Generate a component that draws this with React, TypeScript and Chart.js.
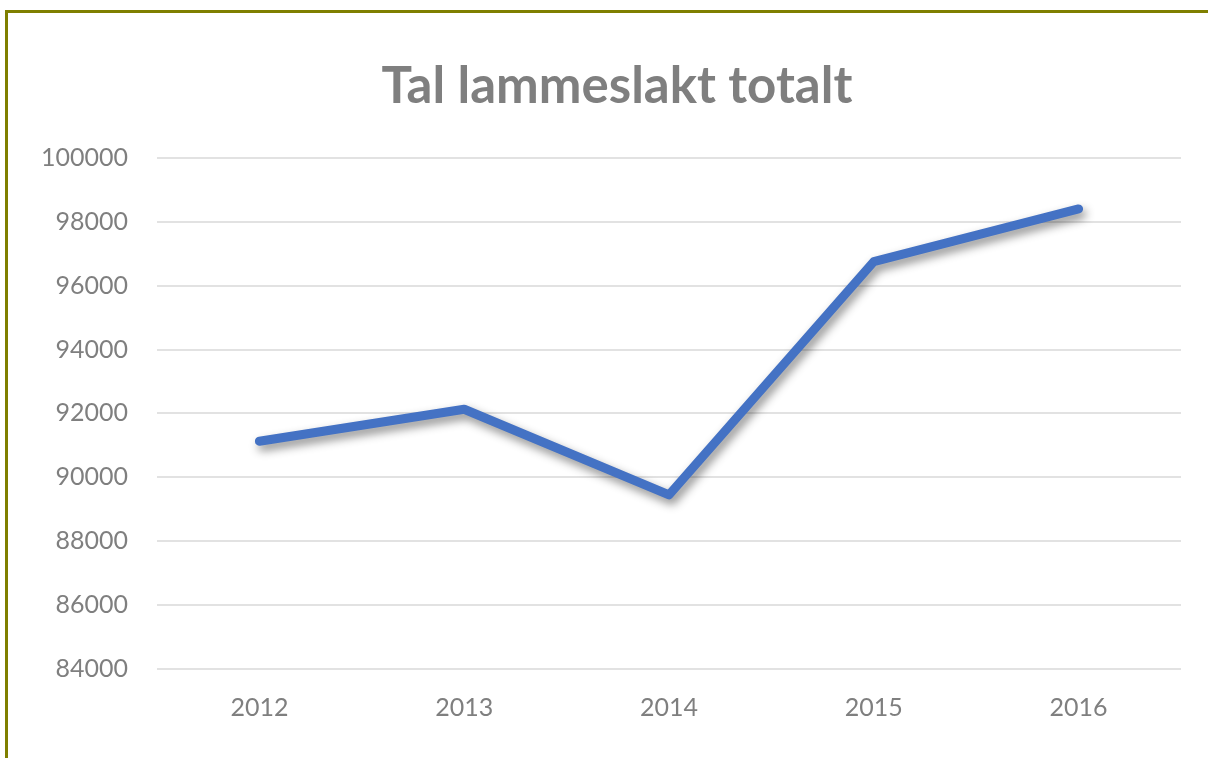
import React, { useEffect, useRef } from "react";
import { Chart, registerables } from "chart.js";

Chart.register(...registerables);

const categories: string[] = ["2012", "2013", "2014", "2015", "2016"];
const values: number[] = [91130, 92130, 89450, 96750, 98400];
const yMin = 84000;
const yMax = 100000;
const yStep = 2000;
const titleText = "Tal lammeslakt totalt";

const shadowPlugin = {
  id: "lineShadow",
  beforeDatasetDraw(chart: any) {
    const ctx = chart.ctx;
    ctx.save();
    ctx.shadowColor = "rgba(0,0,0,0.45)";
    ctx.shadowBlur = 10;
    ctx.shadowOffsetX = 3;
    ctx.shadowOffsetY = 5;
  },
  afterDatasetDraw(chart: any) {
    chart.ctx.restore();
  },
};

const titlePlugin = {
  id: "customTitle",
  afterDraw(chart: any) {
    const ctx = chart.ctx;
    ctx.save();
    ctx.font = "bold 51px Lato";
    ctx.fillStyle = "#7f7f7f";
    ctx.textAlign = "center";
    ctx.textBaseline = "alphabetic";
    ctx.fillText(titleText, 617, 103);
    ctx.restore();
  },
};

export default function App() {
  const ref = useRef<HTMLCanvasElement | null>(null);

  useEffect(() => {
    document.body.style.overflow = "hidden";
    const canvas = ref.current;
    if (!canvas) return;
    const chart = new Chart(canvas, {
      type: "line",
      data: {
        labels: categories,
        datasets: [
          {
            data: values,
            borderColor: "#4472C4",
            borderWidth: 9,
            borderCapStyle: "round",
            borderJoinStyle: "round",
            pointRadius: 0,
            tension: 0,
            fill: false,
          },
        ],
      },
      options: {
        animation: false,
        responsive: false,
        devicePixelRatio: 1,
        layout: { padding: { top: 0, left: 0, right: 27, bottom: 0 } },
        plugins: {
          legend: { display: false },
          tooltip: { enabled: false },
          title: {
            display: true,
            text: titleText,
            color: "rgba(0,0,0,0)",
            font: { family: "Lato", size: 44, weight: "bold" },
            padding: { top: 59, bottom: 46 },
          },
        },
        scales: {
          x: {
            offset: true,
            grid: { display: false, drawTicks: false },
            border: { display: false },
            ticks: {
              color: "#7f7f7f",
              font: { family: "Lato", size: 25 },
              padding: 24,
              maxRotation: 0,
            },
            afterFit(scale: any) {
              scale.height = 89;
            },
          },
          y: {
            min: yMin,
            max: yMax,
            grid: { color: "#e2e2e2", lineWidth: 2, drawTicks: false },
            border: { display: false },
            ticks: {
              stepSize: yStep,
              color: "#7f7f7f",
              font: { family: "Lato", size: 25 },
              padding: 29,
              callback: (v: any) => String(v),
            },
            afterFit(scale: any) {
              scale.width = 157;
            },
          },
        },
      },
      plugins: [shadowPlugin, titlePlugin],
    } as any);
    return () => chart.destroy();
  }, []);

  return (
    <>
      <canvas
        ref={ref}
        width={1208}
        height={758}
        style={{ position: "fixed", left: 0, top: 0, width: 1208, height: 758 }}
      />
      <div
        style={{
          position: "fixed",
          left: 5,
          top: 10,
          width: 1300,
          height: 900,
          borderLeft: "3px solid #7f7f00",
          borderTop: "3px solid #7f7f00",
          pointerEvents: "none",
        }}
      />
    </>
  );
}
